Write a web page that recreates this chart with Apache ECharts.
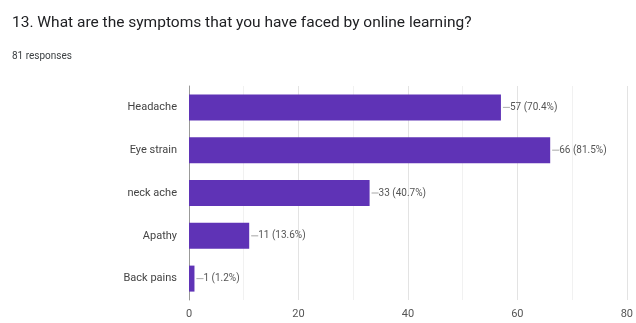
<!DOCTYPE html>
<html><head><meta charset="utf-8">
<script src="https://cdn.jsdelivr.net/npm/echarts@6/dist/echarts.min.js"></script>
<style>html,body{margin:0;padding:0;background:#fff}#c{width:636px;height:323px}</style>
</head><body><div id="c"></div>
<script>
const categories = ["Headache", "Eye strain", "neck ache", "Apathy", "Back pains"];
const counts = [57, 66, 33, 11, 1];
const percents = ["70.4%", "81.5%", "40.7%", "13.6%", "1.2%"];
const xTicks = [0, 20, 40, 60, 80];
const titleText = "13. What are the symptoms that you have faced by online learning?";
const subText = "81 responses";

const chart = echarts.init(document.getElementById('c'));
chart.setOption({
  animation: false,
  backgroundColor: '#fff',
  title: [
    {text: titleText, left: 7, top: 10, textStyle: {fontFamily: 'Roboto', fontSize: 15.5, fontWeight: 'normal', color: '#202124'}},
    {text: subText, left: 7, top: 46, textStyle: {fontFamily: 'Roboto', fontSize: 10, fontWeight: 'normal', color: '#3c4043'}}
  ],
  grid: {left: 189, right: 6, top: 86, bottom: 23},
  xAxis: {
    type: 'value', min: 0, max: 80, interval: 20,
    axisLine: {show: false}, axisTick: {show: false},
    axisLabel: {fontFamily: 'Roboto', fontSize: 11, color: '#555', margin: 9,
      formatter: v => xTicks.includes(v) ? String(v) : ''},
    splitLine: {lineStyle: {color: '#e3e3e3', width: 1}},
    minorTick: {show: false, splitNumber: 2},
    minorSplitLine: {show: true, lineStyle: {color: '#f1f1f1'}}
  },
  yAxis: {
    type: 'category', data: categories, inverse: true,
    axisLine: {show: true, lineStyle: {color: '#999', width: 1}},
    axisTick: {show: false},
    axisLabel: {fontFamily: 'Roboto', fontSize: 11, color: '#444', margin: 12}
  },
  series: [{
    type: 'bar', data: counts, barWidth: 26,
    itemStyle: {color: '#5f33b6'},
    label: {
      show: true, position: 'right', distance: 2,
      fontFamily: 'Roboto', fontSize: 10, color: '#555',
      formatter: p => '{d|}' + p.value + ' (' + percents[p.dataIndex] + ')',
      rich: {d: {width: 7, height: 0, borderColor: '#999', borderWidth: 0.5, padding: 0}}
    }
  }]
});
</script></body></html>
